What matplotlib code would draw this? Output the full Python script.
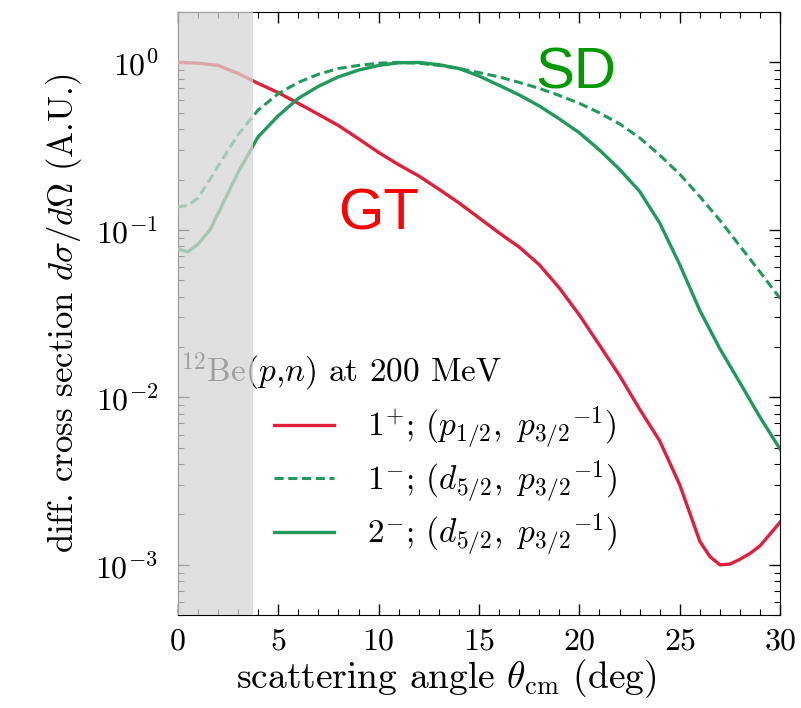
import matplotlib
matplotlib.use("Agg")
import matplotlib.pyplot as plt
from matplotlib.ticker import MultipleLocator, LogLocator, NullFormatter

plt.rcParams['font.family'] = 'serif'
plt.rcParams['font.serif'] = ['cmr10', 'DejaVu Serif']
plt.rcParams['mathtext.fontset'] = 'cm'
plt.rcParams['axes.unicode_minus'] = False
plt.rcParams['axes.formatter.use_mathtext'] = True

# Values
x_gt = [0, 1, 2, 3, 4, 5, 6, 7, 8, 9, 10, 11, 12, 13, 14, 15, 16, 17, 18, 19, 20,
        21, 22, 23, 24, 25, 26, 26.5, 27, 27.5, 28, 28.5, 29, 30]
y_gt = [1.0, 0.99, 0.96, 0.86, 0.75, 0.66, 0.57, 0.49, 0.42, 0.35, 0.29, 0.245, 0.21,
        0.175, 0.145, 0.118, 0.096, 0.079, 0.062, 0.045, 0.031, 0.0205, 0.0135, 0.0085,
        0.0055, 0.0030, 0.00138, 0.00112, 0.00100, 0.00101, 0.00108, 0.00117, 0.0013, 0.0018]

x_sd = [0, 0.5, 1, 1.6, 2, 3, 4, 5, 6, 7, 8, 9, 10, 11, 12, 13, 14, 15, 16, 17, 18,
        19, 20, 21, 22, 23, 24, 25, 26, 27, 28, 29, 30]
y_1m = [0.137, 0.14, 0.155, 0.20, 0.24, 0.37, 0.52, 0.65, 0.76, 0.85, 0.92, 0.96, 0.99,
        1.0, 0.99, 0.96, 0.92, 0.87, 0.82, 0.76, 0.70, 0.635, 0.57, 0.50, 0.43, 0.355,
        0.28, 0.215, 0.158, 0.114, 0.080, 0.056, 0.039]
y_2m = [0.077, 0.074, 0.082, 0.10, 0.125, 0.22, 0.36, 0.48, 0.61, 0.72, 0.82, 0.90, 0.96,
        0.995, 1.0, 0.97, 0.92, 0.83, 0.73, 0.64, 0.55, 0.46, 0.38, 0.30, 0.23, 0.17,
        0.11, 0.062, 0.033, 0.0195, 0.0122, 0.0076, 0.0049]

labels = [r'$1^{+}$; $(p_{1/2},\ p_{3/2}{}^{-1})$',
          r'$1^{-}$; $(d_{5/2},\ p_{3/2}{}^{-1})$',
          r'$2^{-}$; $(d_{5/2},\ p_{3/2}{}^{-1})$']

red = '#e0203a'
green = '#1f9a5a'

fig = plt.figure(figsize=(8.01, 7.08), dpi=100)
ax = fig.add_axes([0.222, 0.131, 0.752, 0.852])

ax.plot(x_gt, y_gt, color=red, lw=2.4, label=labels[0], zorder=3)
ax.plot(x_sd, y_1m, color=green, lw=2.2, ls=(0, (3, 1.5)), label=labels[1], zorder=3)
ax.plot(x_sd, y_2m, color=green, lw=2.4, label=labels[2], zorder=3)

ax.text(0.1, 0.0125, r'$^{12}$Be$(p$,$n)$ at 200 MeV', fontsize=24, zorder=2)
ax.axvspan(0, 3.75, color='#d6d6d6', alpha=0.75, lw=0, zorder=4)

ax.text(8.0, 0.1, 'GT', color='#ff0000', fontsize=42, family='Liberation Sans')
ax.text(17.8, 0.70, 'SD', color='#009a00', fontsize=42, family='Liberation Sans')

ax.set_yscale('log')
ax.set_xlim(0, 30)
ax.set_ylim(5e-4, 2)
ax.xaxis.set_major_locator(MultipleLocator(5))
ax.xaxis.set_minor_locator(MultipleLocator(1))
ax.yaxis.set_major_locator(LogLocator(base=10, numticks=10))
ax.yaxis.set_minor_locator(LogLocator(base=10, subs=range(2, 10), numticks=20))
ax.yaxis.set_minor_formatter(NullFormatter())
ax.tick_params(which='both', direction='in', top=True, right=True, labelsize=23)
ax.tick_params(which='major', length=8, width=1)
ax.tick_params(which='minor', length=4, width=0.8)
ax.tick_params(axis='x', pad=9)
ax.tick_params(axis='y', pad=14)

ax.set_xlabel(r'scattering angle $\theta_{\mathrm{cm}}$ (deg)', fontsize=27, labelpad=2)
ax.xaxis.set_label_coords(0.445, -0.07)
ax.set_ylabel(r'diff. cross section $d\sigma/d\Omega$ (A.U.)', fontsize=25, labelpad=8)

ax.legend(loc='lower left', bbox_to_anchor=(0.11, 0.045), frameon=False, fontsize=24,
          handlelength=1.8, labelspacing=0.2, handletextpad=1.0)

fig.savefig('out.png', dpi=100)
